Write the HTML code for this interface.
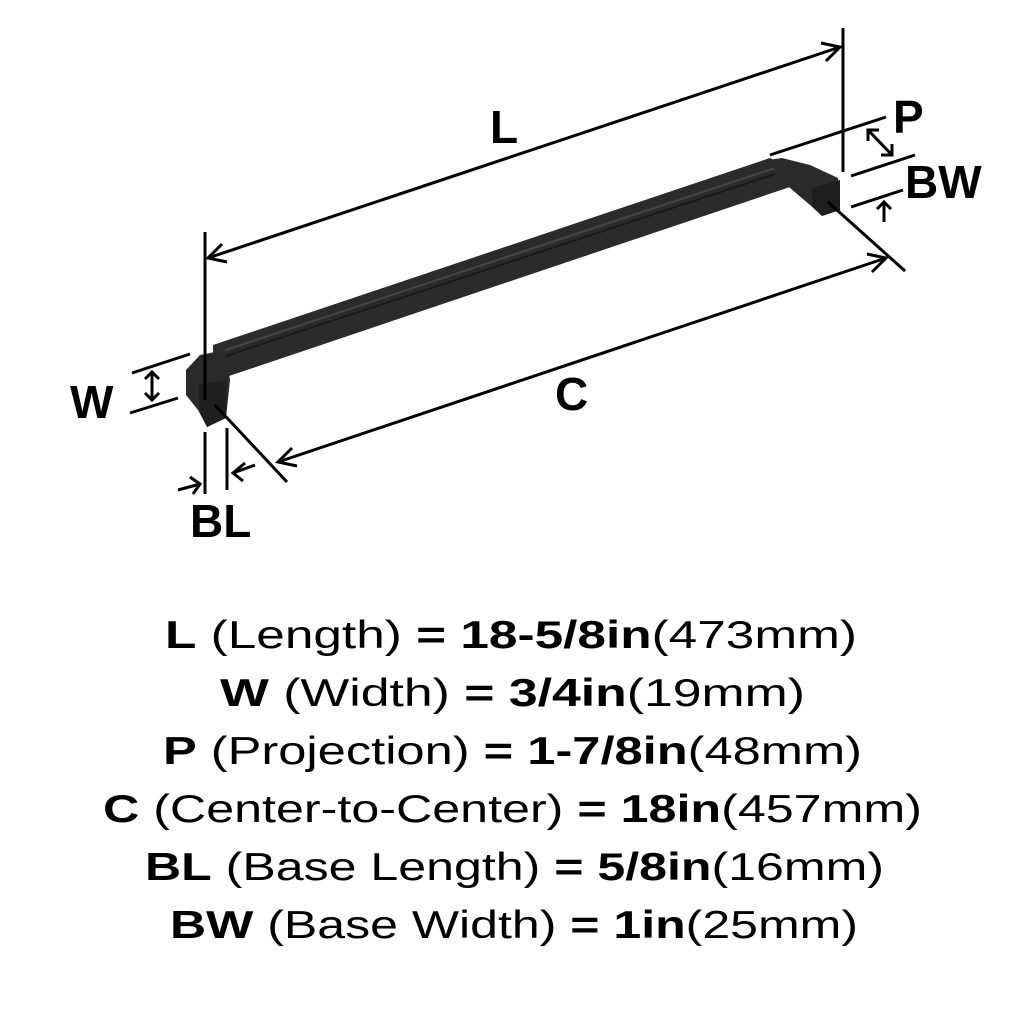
<!DOCTYPE html>
<html><head><meta charset="utf-8"><style>html,body{margin:0;padding:0;background:#fff}svg{display:block}</style></head>
<body>
<svg width="1024" height="1024" viewBox="0 0 1024 1024" xmlns="http://www.w3.org/2000/svg" font-family="Liberation Sans, sans-serif">
<rect width="1024" height="1024" fill="#fff"/>
<!-- bar -->
<polygon points="213,345 770,158 790,168 790,187 226,377 213,372" fill="#2b2b2b"/>
<line x1="220" y1="352" x2="775" y2="168" stroke="#444" stroke-width="2"/>
<line x1="220" y1="358" x2="775" y2="174" stroke="#1a1a1a" stroke-width="2"/>
<!-- left post -->
<polygon points="186,370 200,355 225,350 230,380 226,418 207,427 198,410 186,395" fill="#2a2a2a"/>
<polygon points="198,385 226,380 226,418 207,427 200,412" fill="#1f1f1f"/>
<!-- right post -->
<polygon points="768,160 782,158 810,165 838,178 840,210 822,216 810,205 790,188" fill="#2a2a2a"/>
<polygon points="812,188 840,180 840,210 822,216 812,205" fill="#1e1e1e"/>
<g stroke="#000" stroke-width="3" fill="none" stroke-linecap="butt">
<line x1="205" y1="232" x2="205" y2="400"/>
<line x1="843" y1="28" x2="843" y2="172"/>
<line x1="208" y1="258" x2="840" y2="47"/>
<polyline points="222,244 208,258 227,262"/>
<polyline points="821,43 840,47 826,61"/>
<line x1="770" y1="155" x2="886" y2="117"/>
<line x1="851" y1="176" x2="915" y2="155"/>
<line x1="851" y1="207" x2="903" y2="190"/>
<line x1="868" y1="130" x2="892" y2="155"/>
<polyline points="868,141 868,130 879,130"/>
<polyline points="881,155 892,155 892,144"/>
<line x1="884" y1="222" x2="884" y2="202"/>
<polyline points="877,209 884,202 891,209"/>
<line x1="828" y1="202" x2="905" y2="271"/>
<line x1="278" y1="462" x2="886" y2="258"/>
<polyline points="292,448 278,462 297,466"/>
<polyline points="867,254 886,258 872,272"/>
<line x1="215" y1="405" x2="287" y2="482"/>
<line x1="132" y1="373" x2="190" y2="354"/>
<line x1="130" y1="413" x2="178" y2="398"/>
<line x1="152" y1="372" x2="152" y2="400"/>
<polyline points="145,379 152,372 159,379"/>
<polyline points="145,393 152,400 159,393"/>
<line x1="205" y1="432" x2="205" y2="494"/>
<line x1="227" y1="428" x2="227" y2="490"/>
<line x1="178" y1="490" x2="200" y2="484"/>
<polyline points="190,477 200,484 193,494"/>
<line x1="255" y1="465" x2="233" y2="473"/>
<polyline points="245,463 233,473 243,481"/>
</g>
<g font-weight="bold" font-size="46" fill="#000">
<text x="490" y="143">L</text>
<text x="893" y="133">P</text>
<text x="905" y="198">BW</text>
<text x="555" y="410">C</text>
<text x="70" y="418">W</text>
<text x="190" y="537">BL</text>
</g>
<g font-size="39" fill="#000">
<text x="165" y="648" textLength="692" lengthAdjust="spacingAndGlyphs"><tspan font-weight="bold">L</tspan> (Length) <tspan font-weight="bold">= 18-5/8in</tspan>(473mm)</text>
<text x="220" y="706" textLength="585" lengthAdjust="spacingAndGlyphs"><tspan font-weight="bold">W</tspan> (Width) <tspan font-weight="bold">= 3/4in</tspan>(19mm)</text>
<text x="163" y="764" textLength="699" lengthAdjust="spacingAndGlyphs"><tspan font-weight="bold">P</tspan> (Projection) <tspan font-weight="bold">= 1-7/8in</tspan>(48mm)</text>
<text x="103" y="822" textLength="819" lengthAdjust="spacingAndGlyphs"><tspan font-weight="bold">C</tspan> (Center-to-Center) <tspan font-weight="bold">= 18in</tspan>(457mm)</text>
<text x="145" y="880" textLength="739" lengthAdjust="spacingAndGlyphs"><tspan font-weight="bold">BL</tspan> (Base Length) <tspan font-weight="bold">= 5/8in</tspan>(16mm)</text>
<text x="170" y="938" textLength="688" lengthAdjust="spacingAndGlyphs"><tspan font-weight="bold">BW</tspan> (Base Width) <tspan font-weight="bold">= 1in</tspan>(25mm)</text>
</g>
</svg>
</body></html>
